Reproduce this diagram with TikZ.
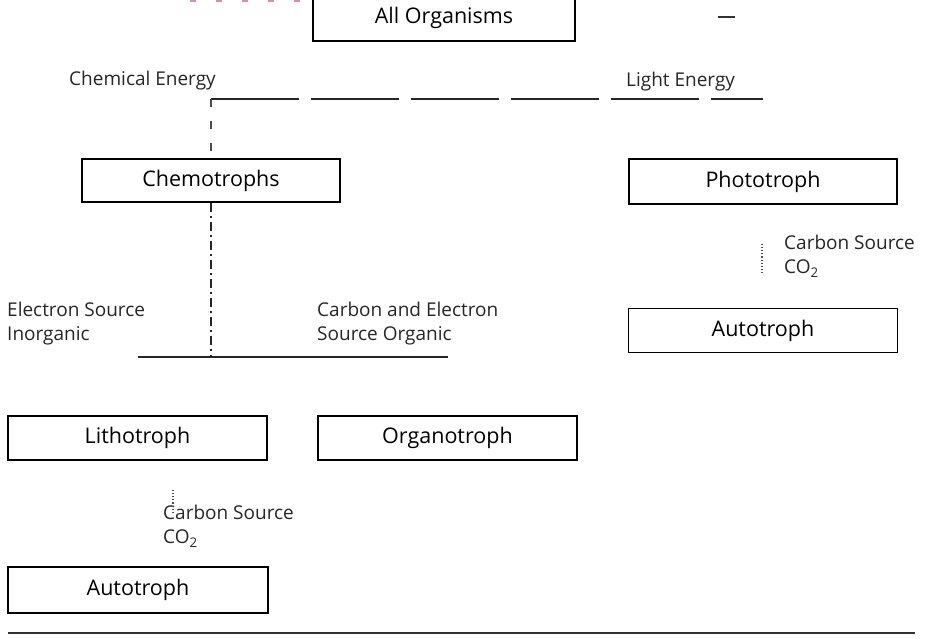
\documentclass[tikz,border=0pt]{standalone}
\usepackage{fontspec}
\setmainfont{Open Sans}
\begin{document}
\begin{tikzpicture}[x=1pt,y=-1pt,
  box/.style={draw=black,line width=1.6pt,inner sep=0pt,
    font=\fontsize{21.5}{26}\selectfont,text=black},
  lbl/.style={inner sep=0pt,align=left,font=\fontsize{19}{24}\selectfont,text=black!85},
  conn/.style={line width=1.3pt,draw=black!85},
  faint/.style={line width=1.1pt,draw=black!70}]
\useasboundingbox (0,0) rectangle (940,638);
\clip (0,0) rectangle (940,638);
% boxes
\node[box,minimum width=262pt,minimum height=46pt] (allorg) at (444,18) {All Organisms};
\node[box,minimum width=258pt,minimum height=43pt] (chemo) at (211,180.5) {Chemotrophs};
\node[box,minimum width=268pt,minimum height=45pt] (photo) at (763,181.5) {Phototroph};
\node[box,minimum width=269pt,minimum height=44pt] (autoR) at (763,330.5) {Autotroph};
\node[box,minimum width=259pt,minimum height=44pt] (litho) at (137.5,438) {Lithotroph};
\node[box,minimum width=259pt,minimum height=44pt] (organo) at (447.5,438) {Organotroph};
\node[box,minimum width=260pt,minimum height=46pt] (autoL) at (138,590) {Autotroph};
% labels
\node[lbl,anchor=east] (chemE) at (216,81) {Chemical Energy};
\node[lbl,anchor=west] (lightE) at (626,82) {Light Energy};
\node[lbl,anchor=west] (elec) at (7,324) {Electron Source\\Inorganic};
\node[lbl,anchor=west] (carbel) at (317,324) {Carbon and Electron\\Source Organic};
\node[lbl,anchor=west] (carbR) at (784,256) {Carbon Source\\CO\textsubscript{2}};
\node[lbl,anchor=west] (carbL) at (163,526) {Carbon Source\\CO\textsubscript{2}};
% connector coordinates
\coordinate (bl) at (211,99);
\coordinate (br) at (763,99);
\coordinate (ml) at (137.5,357);
\coordinate (mr) at (447.5,357);
\coordinate (rt) at (762,244);
\coordinate (rb) at (762,272);
\coordinate (lt) at (173,490);
\coordinate (lb) at (173,512);
% connectors
\draw[conn,dash pattern=on 88pt off 12pt] (bl) -- (br);
\draw[faint,dash pattern=on 8pt off 14pt] (bl) -- (bl |- chemo.north);
\draw[conn,dash pattern=on 9pt off 4pt on 2pt off 4pt] (chemo.south) -- (chemo.south |- ml);
\draw[conn] (ml) -- (mr);
\draw[faint,dotted] (rt) -- (rb);
\draw[faint,dotted] (lt) -- (lb);
% page marks
\coordinate (bot1) at (8,633);
\coordinate (bot2) at (915,633);
\draw[line width=1.4pt,draw=black!80] (bot1) -- (bot2);
\coordinate (tr1) at (718,17);
\coordinate (tr2) at (735,17);
\draw[line width=1.2pt,draw=black!80] (tr1) -- (tr2);
\coordinate (pk1) at (190,1);
\coordinate (pk2) at (300,1);
\draw[line width=2pt,draw={rgb,255:red,220;green,140;blue,180},dash pattern=on 6pt off 20pt] (pk1) -- (pk2);
\end{tikzpicture}
\end{document}
